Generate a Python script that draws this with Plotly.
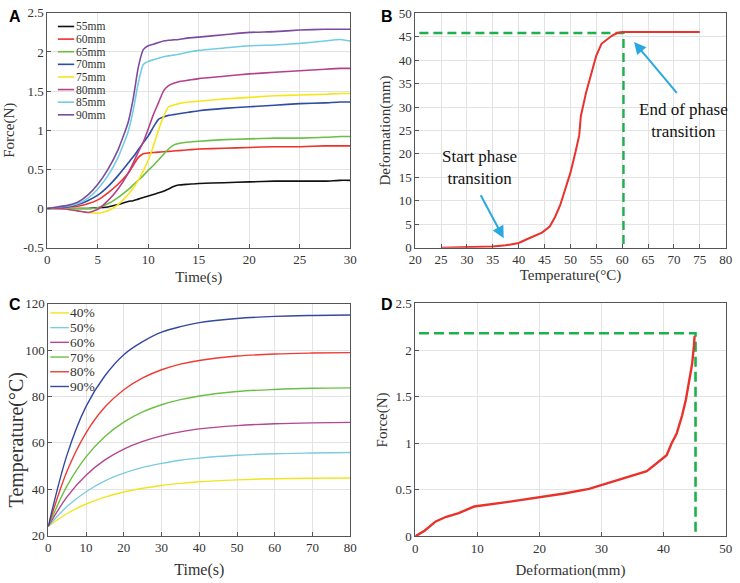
import plotly.graph_objects as go

W, H = 740, 583

# ---------------- Panel A data ----------------
a_time = [0, 1, 2, 3, 4, 5, 6, 7, 8, 8.5, 9, 9.5, 10, 10.5, 11, 11.5, 12, 12.5, 13, 14, 15,
          17.5, 20, 22.5, 25, 27.5, 29, 30]
a_names = ["55mm", "60mm", "65mm", "70mm", "75mm", "80mm", "85mm", "90mm"]
a_colors = ["#111111", "#f0302a", "#6cbf45", "#2f4da3", "#f7e51c", "#b4418c", "#72cde3", "#7a4b9e"]
a_55 = [0, 0, 0, 0, 0, 0.01, 0.02, 0.05, 0.09, 0.1, 0.12, 0.14, 0.16, 0.18, 0.2, 0.22, 0.25, 0.28,
        0.3, 0.31, 0.32, 0.33, 0.34, 0.35, 0.35, 0.35, 0.36, 0.36]
a_60 = [0, 0.01, 0.02, 0.03, 0.06, 0.11, 0.2, 0.31, 0.45, 0.55, 0.65, 0.7, 0.71, 0.715, 0.72, 0.725,
        0.73, 0.735, 0.74, 0.75, 0.76, 0.77, 0.78, 0.79, 0.79, 0.8, 0.8, 0.8]
a_65 = [0, 0, 0, 0, 0, 0.01, 0.06, 0.14, 0.24, 0.3, 0.36, 0.42, 0.49, 0.55, 0.62, 0.69, 0.76, 0.81,
        0.83, 0.85, 0.86, 0.88, 0.89, 0.9, 0.9, 0.91, 0.92, 0.92]
a_70 = [0, 0.01, 0.02, 0.05, 0.1, 0.17, 0.28, 0.42, 0.58, 0.66, 0.75, 0.84, 0.93, 1.04, 1.14, 1.17,
        1.19, 1.2, 1.21, 1.23, 1.25, 1.28, 1.3, 1.32, 1.34, 1.35, 1.36, 1.36]
a_75 = [0, 0, -0.01, -0.03, -0.05, -0.06, -0.03, 0.05, 0.18, 0.26, 0.36, 0.48, 0.62, 0.8, 1.0, 1.17,
        1.3, 1.32, 1.34, 1.36, 1.37, 1.4, 1.42, 1.44, 1.45, 1.46, 1.47, 1.47]
a_80 = [0, 0, -0.01, -0.03, -0.05, -0.01, 0.1, 0.25, 0.45, 0.58, 0.72, 0.85, 1.02, 1.2, 1.35, 1.5,
        1.57, 1.6, 1.62, 1.64, 1.66, 1.69, 1.72, 1.74, 1.76, 1.78, 1.79, 1.79]
a_85 = [0, 0.02, 0.03, 0.06, 0.13, 0.25, 0.42, 0.65, 0.98, 1.25, 1.6, 1.84, 1.88, 1.9, 1.92, 1.94,
        1.95, 1.96, 1.97, 2.0, 2.02, 2.05, 2.08, 2.09, 2.11, 2.14, 2.16, 2.14]
a_90 = [0, 0.02, 0.04, 0.08, 0.17, 0.31, 0.5, 0.75, 1.1, 1.4, 1.8, 2.03, 2.08, 2.1, 2.12, 2.14,
        2.15, 2.155, 2.16, 2.18, 2.19, 2.22, 2.25, 2.26, 2.28, 2.29, 2.29, 2.29]
a_series = [a_55, a_60, a_65, a_70, a_75, a_80, a_85, a_90]
a_yticks = [-0.5, 0, 0.5, 1, 1.5, 2, 2.5]
a_yticktext = ["-0.5", "0", "0.5", "1", "1.5", "2", "2.5"]

# ---------------- Panel B data ----------------
b_temp = [25, 30, 35, 37.5, 40, 42, 44.5, 46, 47, 48, 49, 50, 51, 51.7, 52, 53, 54, 55, 56, 57,
          58, 59, 60, 65, 70, 75]
b_def = [0, 0.05, 0.25, 0.5, 1.0, 2.0, 3.2, 4.5, 6.5, 9, 12.5, 16, 20.5, 24, 28, 33, 37, 41, 43.5,
         44.3, 45.2, 45.8, 46, 46, 46, 46]
b_guide_x = [20.8, 60.25, 60.25]
b_guide_y = [45.8, 45.8, 0]
b_start_label = "Start phase<br>transition"
b_end_label = "End of phase<br>transition"

# ---------------- Panel C data ----------------
c_time = [0, 5, 10, 15, 20, 25, 30, 35, 40, 50, 60, 70, 80]
c_names = ["40%", "50%", "60%", "70%", "80%", "90%"]
c_colors = ["#f2e422", "#7ccbe0", "#b4458f", "#6cbf45", "#ef3b36", "#3448a0"]
c_40 = [24, 29.5, 33.6, 36.6, 38.8, 40.4, 41.6, 42.5, 43.2, 44.0, 44.5, 44.7, 44.8]
c_50 = [24, 32.6, 38.9, 43.6, 46.9, 49.4, 51.1, 52.5, 53.4, 54.6, 55.3, 55.6, 55.8]
c_60 = [24, 36.8, 46.0, 52.6, 57.3, 60.6, 63.0, 64.7, 66.0, 67.4, 68.2, 68.6, 68.8]
c_70 = [24, 41.5, 53.9, 62.7, 68.9, 73.3, 76.4, 78.6, 80.2, 82.1, 83.0, 83.5, 83.7]
c_80 = [24, 47.9, 64.3, 75.4, 82.9, 88.0, 91.5, 93.9, 95.5, 97.4, 98.3, 98.7, 98.9]
c_90 = [24, 55.0, 75.7, 88.9, 98.0, 103.6, 107.7, 110.1, 111.8, 113.6, 114.5, 114.9, 115.1]
c_series = [c_40, c_50, c_60, c_70, c_80, c_90]
c_ytitle = "Temperature(°C)"

# ---------------- Panel D data ----------------
d_def = [0, 1.5, 3.3, 5, 7, 9.5, 15, 20, 24, 28, 30, 33, 37.3, 40.5, 41.3, 42.1, 43, 43.6, 44.1,
         44.6, 44.9, 45]
d_force = [0, 0.06, 0.16, 0.21, 0.25, 0.32, 0.37, 0.42, 0.46, 0.51, 0.55, 0.61, 0.7, 0.87, 1.0, 1.1,
           1.3, 1.47, 1.65, 1.85, 2.05, 2.15]
d_guide_x = [0.6, 45.15, 45.15]
d_guide_y = [2.18, 2.18, 0]

# ---------------- styling ----------------
SERIF = "Liberation Serif"
SANS = "Liberation Sans"
INK = "#333333"
GRID = "#e3e3e3"
GREEN = "#1db14b"
ARROW = "#2aa8e0"
RED = "#e8322b"


def px_x(px):
    return px / W


def px_y(py):
    return 1 - py / H


fig = go.Figure()

for name, col, ys in zip(a_names, a_colors, a_series):
    fig.add_trace(go.Scatter(x=a_time, y=ys, mode="lines", name=name, xaxis="x", yaxis="y",
                             line=dict(color=col, width=1.6, shape="spline", smoothing=0.5),
                             showlegend=False))

fig.add_trace(go.Scatter(x=b_guide_x, y=b_guide_y, mode="lines", xaxis="x2", yaxis="y2",
                         line=dict(color=GREEN, width=2.4, dash="9px,5px"), showlegend=False))
fig.add_trace(go.Scatter(x=b_temp, y=b_def, mode="lines", xaxis="x2", yaxis="y2",
                         line=dict(color=RED, width=2), showlegend=False))

for name, col, ys in zip(c_names, c_colors, c_series):
    fig.add_trace(go.Scatter(x=c_time, y=ys, mode="lines", name=name, xaxis="x3", yaxis="y3",
                             line=dict(color=col, width=1.4, shape="spline", smoothing=1.0),
                             showlegend=False))

fig.add_trace(go.Scatter(x=d_guide_x, y=d_guide_y, mode="lines", xaxis="x4", yaxis="y4",
                         line=dict(color=GREEN, width=2.6, dash="10px,5px"), showlegend=False))
fig.add_trace(go.Scatter(x=d_def, y=d_force, mode="lines", xaxis="x4", yaxis="y4",
                         line=dict(color=RED, width=2.4), showlegend=False))

ax_common = dict(showline=True, linecolor="#555555", linewidth=1, mirror=True,
                 ticks="inside", ticklen=4, tickcolor="#555555",
                 showgrid=True, gridcolor=GRID, gridwidth=1, zeroline=False,
                 tickfont=dict(family=SERIF, size=13, color=INK))


def title(text, size=15, standoff=4):
    return dict(text=text, font=dict(family=SERIF, size=size, color=INK), standoff=standoff)


fig.update_layout(
    width=W, height=H, margin=dict(l=0, r=0, t=0, b=0),
    paper_bgcolor="white", plot_bgcolor="white",
    font=dict(family=SERIF, color=INK),
    xaxis=dict(ax_common, domain=[px_x(42), px_x(350)], range=[0, 30], dtick=5, tick0=0,
               anchor="y", title=title("Time(s)", 15, 5)),
    yaxis=dict(ax_common, domain=[px_y(247), px_y(6)], range=[-0.5, 2.5], tickvals=a_yticks,
               ticktext=a_yticktext, anchor="x", title=title("Force(N)")),
    xaxis2=dict(ax_common, domain=[px_x(416), px_x(731.5)], range=[20, 80], dtick=5, tick0=0,
                anchor="y2", title=title("Temperature(°C)", 15, 3)),
    yaxis2=dict(ax_common, domain=[px_y(247), px_y(6.5)], range=[0, 50], dtick=5, tick0=0,
                anchor="x2", title=title("Deformation(mm)")),
    xaxis3=dict(ax_common, domain=[px_x(43), px_x(350)], range=[0, 80], dtick=10, tick0=0,
                anchor="y3", title=title("Time(s)", 16, 9)),
    yaxis3=dict(ax_common, domain=[px_y(542.5), px_y(304.5)], range=[20, 120], dtick=20, tick0=0,
                anchor="x3"),
    xaxis4=dict(ax_common, domain=[px_x(416), px_x(731.5)], range=[0, 50], dtick=10, tick0=0,
                anchor="y4", title=title("Deformation(mm)", 15, 9)),
    yaxis4=dict(ax_common, domain=[px_y(543.3), px_y(304.3)], range=[0, 2.5], dtick=0.5, tick0=0,
                anchor="x4", title=title("Force(N)")),
)

annotations = []
shapes = []

# panel letters
for letter, cx, cy in [("A", 9.5, 10), ("B", 387, 10), ("C", 9.5, 305), ("D", 387, 305)]:
    annotations.append(dict(text=f"<b>{letter}</b>", x=px_x(cx), y=px_y(cy), xref="paper",
                            yref="paper", xanchor="center", yanchor="middle", showarrow=False,
                            font=dict(family=SANS, size=16, color="#000000")))

# panel C y-axis title (placed as in the reference, slightly below axis centre)
annotations.append(dict(text=c_ytitle, x=px_x(11), y=px_y(444), xref="paper", yref="paper",
                        xanchor="center", yanchor="middle", textangle=-90, showarrow=False,
                        font=dict(family=SERIF, size=20, color=INK)))

# manual legend panel A
for i, (name, col) in enumerate(zip(a_names, a_colors)):
    yy = px_y(20 + i * 12.95)
    shapes.append(dict(type="line", xref="paper", yref="paper", x0=px_x(52.7), x1=px_x(69.3),
                       y0=yy, y1=yy, line=dict(color=col, width=1.6)))
    annotations.append(dict(text=name, x=px_x(70), y=yy, xref="paper", yref="paper",
                            xanchor="left", yanchor="middle", showarrow=False, borderpad=0,
                            font=dict(family=SERIF, size=11.5, color=INK)))

# manual legend panel C
for i, (name, col) in enumerate(zip(c_names, c_colors)):
    yy = px_y(314 + i * 15.1)
    shapes.append(dict(type="line", xref="paper", yref="paper", x0=px_x(45), x1=px_x(64),
                       y0=yy, y1=yy, line=dict(color=col, width=1.4)))
    annotations.append(dict(text=name, x=px_x(64), y=yy, xref="paper", yref="paper",
                            xanchor="left", yanchor="middle", showarrow=False, borderpad=0,
                            font=dict(family=SERIF, size=13.5, color=INK)))

# panel B text + arrows
annotations.append(dict(text=b_start_label, x=32.5, y=17.1, xref="x2", yref="y2",
                        showarrow=False, xanchor="center", yanchor="middle",
                        font=dict(family=SERIF, size=17, color="#111111")))
annotations.append(dict(text=b_end_label, x=71.9, y=27.1, xref="x2", yref="y2",
                        showarrow=False, xanchor="center", yanchor="middle",
                        font=dict(family=SERIF, size=17, color="#111111")))
annotations.append(dict(text="", x=37.1, y=2.0, ax=32.5, ay=11.5, xref="x2", yref="y2",
                        axref="x2", ayref="y2", showarrow=True, arrowhead=2, arrowsize=1.2,
                        arrowwidth=2, arrowcolor=ARROW))
annotations.append(dict(text="", x=62.3, y=43.9, ax=70.8, ay=32.7, xref="x2", yref="y2",
                        axref="x2", ayref="y2", showarrow=True, arrowhead=2, arrowsize=1.2,
                        arrowwidth=2, arrowcolor=ARROW))

fig.update_layout(annotations=annotations, shapes=shapes)

fig.write_html("out.html")
